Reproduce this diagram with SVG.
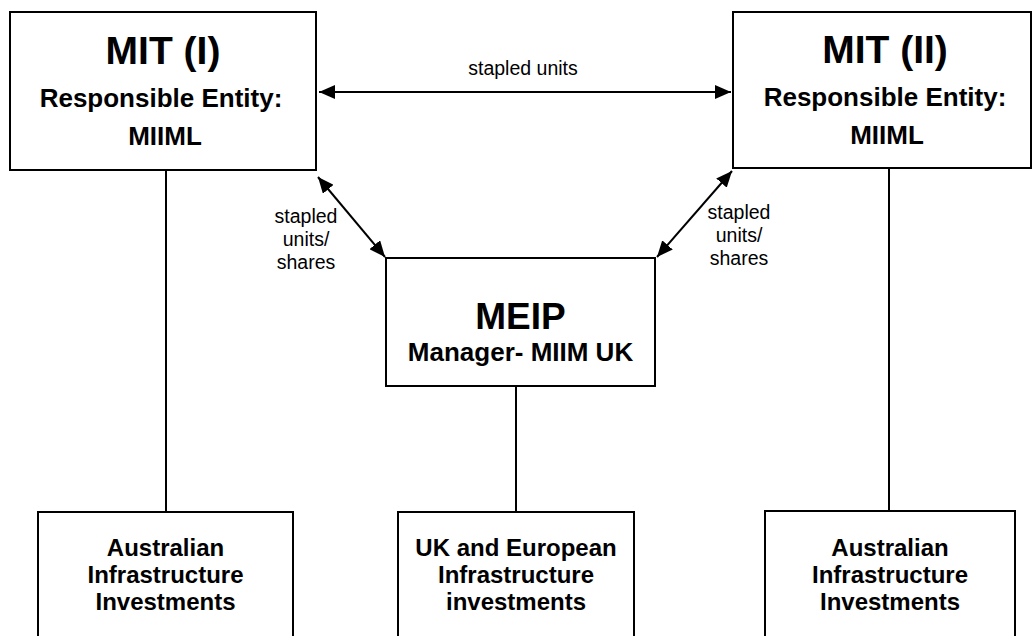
<svg xmlns="http://www.w3.org/2000/svg" width="1032" height="636" viewBox="0 0 1032 636">
<style>
.box{fill:#fff;stroke:#000;stroke-width:2}
.ln{stroke:#000;stroke-width:2;fill:none}
.t{font-family:"Liberation Sans",Arial,sans-serif;font-weight:bold;text-anchor:middle;fill:#000}
.s{font-family:"Liberation Sans",Arial,sans-serif;text-anchor:middle;fill:#000;font-size:19.5px}
</style>
<defs>
<marker id="ah" viewBox="0 0 16 14" refX="16" refY="7" markerWidth="16" markerHeight="14" markerUnits="userSpaceOnUse" orient="auto-start-reverse">
<path d="M0,0 L16,7 L0,14 Z" fill="#000"/>
</marker>
</defs>
<rect width="1032" height="636" fill="#fff"/>
<g id="connectors">
<line class="ln" x1="166" y1="170" x2="166" y2="512"/>
<line class="ln" x1="516" y1="386" x2="516" y2="512"/>
<line class="ln" x1="889" y1="168" x2="889" y2="511"/>
<line class="ln" x1="319" y1="92" x2="731" y2="92" marker-start="url(#ah)" marker-end="url(#ah)"/>
<line class="ln" x1="318" y1="177" x2="385" y2="257" marker-start="url(#ah)" marker-end="url(#ah)"/>
<line class="ln" x1="732" y1="171" x2="657" y2="257" marker-start="url(#ah)" marker-end="url(#ah)"/>
<text class="s" x="523" y="75">stapled units</text>
<text class="s" x="306" y="223">stapled</text>
<text class="s" x="306" y="246">units/</text>
<text class="s" x="306" y="269">shares</text>
<text class="s" x="739" y="219">stapled</text>
<text class="s" x="739" y="242">units/</text>
<text class="s" x="739" y="265">shares</text>
</g>
<g id="mit1">
<rect class="box" x="10" y="12" width="306" height="158"/>
<text class="t" x="163" y="64" font-size="39">MIT (I)</text>
<text class="t" x="161" y="107" font-size="26">Responsible Entity:</text>
<text class="t" x="165" y="145" font-size="26">MIIML</text>
</g>
<g id="mit2">
<rect class="box" x="733" y="12" width="298" height="156"/>
<text class="t" x="885" y="63" font-size="39">MIT (II)</text>
<text class="t" x="885" y="106" font-size="26">Responsible Entity:</text>
<text class="t" x="887" y="144" font-size="26">MIIML</text>
</g>
<g id="meip">
<rect class="box" x="386" y="258" width="269" height="128"/>
<text class="t" x="520.5" y="329" font-size="37">MEIP</text>
<text class="t" x="520.5" y="361" font-size="26">Manager- MIIM UK</text>
</g>
<g id="aus1">
<rect class="box" x="38" y="512" width="255" height="140"/>
<text class="t" x="165.5" y="556" font-size="24">Australian</text>
<text class="t" x="165.5" y="583" font-size="24">Infrastructure</text>
<text class="t" x="165.5" y="610" font-size="24">Investments</text>
</g>
<g id="ukeu">
<rect class="box" x="398" y="512" width="236" height="140"/>
<text class="t" x="516" y="556" font-size="24">UK and European</text>
<text class="t" x="516" y="583" font-size="24">Infrastructure</text>
<text class="t" x="516" y="610" font-size="24">investments</text>
</g>
<g id="aus2">
<rect class="box" x="765" y="511" width="250" height="140"/>
<text class="t" x="890" y="556" font-size="24">Australian</text>
<text class="t" x="890" y="583" font-size="24">Infrastructure</text>
<text class="t" x="890" y="610" font-size="24">Investments</text>
</g>
</svg>
